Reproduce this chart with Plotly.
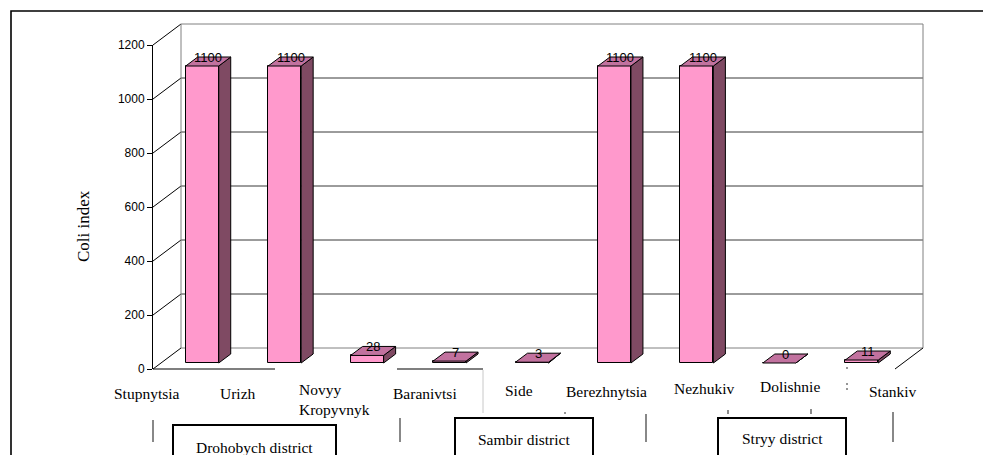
import plotly.graph_objects as go

# ---------------- data ----------------
villages = ["Stupnytsia", "Urizh", "Novyy<br>Kropyvnyk", "Baranivtsi", "Side",
            "Berezhnytsia", "Nezhukiv", "Dolishnie", "Stankiv"]
coli_index = [1100, 1100, 28, 7, 3, 1100, 1100, 0, 11]
districts = ["Drohobych district", "Sambir district", "Stryy district"]
y_ticks = [0, 200, 400, 600, 800, 1000, 1200]

# ---------------- geometry (pixels) ----------------
W, H = 983, 455
AX_L, AX_R = 153, 895      # front plane, left / right edge
AX_B, AX_T = 369, 45       # front plane, value 0 / value 1200
YTOP = y_ticks[-1]
n = len(villages)
PXX = (AX_R - AX_L) / n    # pixels per category unit
PXY = (AX_B - AX_T) / YTOP # pixels per value unit

XMIN = -0.5 - AX_L / PXX
XMAX = XMIN + W / PXX
YMIN = -(H - AX_B) / PXY
YMAX = YMIN + H / PXY


def ux(p):
    return p / PXX


def uy(p):
    return p / PXY


def px(x):
    return x / W


def py(y):
    return 1 - y / H


WALL_DX, WALL_DY = ux(28), uy(21)   # depth of the chart box
BAR_OX, BAR_OY = ux(8), uy(6)       # bars sit slightly behind the front plane
BAR_DX, BAR_DY = ux(12), uy(9)      # depth of each bar
BAR_W = ux(33)

FRONT = "#FF99CC"
TOP = "#C2729F"
SIDE = "#7F4A63"
SERIF = "Liberation Serif, Times New Roman, serif"
SANS = "Liberation Sans, Arial, sans-serif"

fig = go.Figure()

# front faces of the bars
centers = [i + BAR_OX for i in range(n)]
fig.add_trace(go.Bar(
    x=centers, y=coli_index, base=BAR_OY, width=BAR_W,
    marker=dict(color=FRONT, line=dict(color="black", width=1)),
    hoverinfo="skip", showlegend=False,
))

# side and top faces
side_x, side_y, top_x, top_y = [], [], [], []
for c, v in zip(centers, coli_index):
    x0, x1 = c - BAR_W / 2, c + BAR_W / 2
    yt = BAR_OY + v
    side_x += [x1, x1 + BAR_DX, x1 + BAR_DX, x1, x1, None]
    side_y += [BAR_OY, BAR_OY + BAR_DY, yt + BAR_DY, yt, BAR_OY, None]
    top_x += [x0, x1, x1 + BAR_DX, x0 + BAR_DX, x0, None]
    top_y += [yt, yt, yt + BAR_DY, yt + BAR_DY, yt, None]

fig.add_trace(go.Scatter(x=side_x, y=side_y, mode="lines", fill="toself",
                         fillcolor=SIDE, line=dict(color="black", width=1),
                         hoverinfo="skip", showlegend=False))
fig.add_trace(go.Scatter(x=top_x, y=top_y, mode="lines", fill="toself",
                         fillcolor=TOP, line=dict(color="black", width=1),
                         hoverinfo="skip", showlegend=False))

# value labels above each bar
annotations = []
for c, v in zip(centers, coli_index):
    annotations.append(dict(
        x=c + BAR_DX / 2, y=BAR_OY + v + BAR_DY / 2, xref="x", yref="y",
        text=str(v), showarrow=False, yshift=4.5,
        xanchor="center", yanchor="middle",
        font=dict(family=SANS, size=13, color="black"),
    ))

# back wall, gridlines and side wall edges
shapes = []
bx0, bx1 = -0.5 + WALL_DX, n - 0.5 + WALL_DX


def seg(x0, y0, x1, y1, color, width=1, ref="x"):
    yref = "y" if ref == "x" else "paper"
    shapes.append(dict(type="line", xref=ref, yref=yref, x0=x0, y0=y0,
                       x1=x1, y1=y1, layer="below",
                       line=dict(color=color, width=width)))


for t in y_ticks:
    col = "#808080" if t in (0, YTOP) else "#383838"
    seg(bx0, t + WALL_DY, bx1, t + WALL_DY, col)
    seg(-0.5, t, bx0, t + WALL_DY, "black")
seg(bx0, WALL_DY, bx0, YTOP + WALL_DY, "#808080")
seg(bx1, WALL_DY, bx1, YTOP + WALL_DY, "#808080")
seg(n - 0.5, 0, bx1, WALL_DY, "black")

# visible pieces of the floor front edge
for a, b in [(153, 275), (397, 483)]:
    seg(px(a), py(369), px(b), py(369), "black", 1.2, ref="paper")
seg(px(483), py(370), px(483), py(413), "#c8c8c8", 1, ref="paper")

# group separators under the axis
for xs, y0 in [(153, 420), (400, 418), (646, 414), (893, 412)]:
    seg(px(xs), py(y0), px(xs), py(442), "#606060", 1.5, ref="paper")
seg(px(728), py(410), px(728), py(414), "#404040", 1.2, ref="paper")
seg(px(811), py(409), px(811), py(414), "#404040", 1.2, ref="paper")

# small leftover tick marks
for mx, my0, my1 in [(565, 412, 414), (847, 367, 369), (847, 383, 385), (847, 388, 390)]:
    seg(px(mx), py(my0), px(mx), py(my1), "#505050", 1.2, ref="paper")

# outer frame
shapes.append(dict(type="path", xref="paper", yref="paper",
                   path=f"M {px(11)},{py(460)} L {px(11)},{py(11)} L {px(990)},{py(11)}",
                   line=dict(color="black", width=1.6)))

# district boxes
box_pos = [(173, 336, 425, 254, 447), (455, 593, 418, 524, 439), (718, 846, 418, 782, 438)]
for name, (x0, x1, y0, tx, ty) in zip(districts, box_pos):
    shapes.append(dict(type="rect", xref="paper", yref="paper",
                       x0=px(x0), x1=px(x1), y0=py(y0), y1=py(470),
                       line=dict(color="black", width=2), fillcolor="white"))
    annotations.append(dict(x=px(tx), y=py(ty), xref="paper", yref="paper",
                            text=name, showarrow=False,
                            xanchor="center", yanchor="middle",
                            font=dict(family=SERIF, size=15.5, color="black")))

# village labels
label_pos = [(147, 393, "center"), (238, 393, "center"), (297, 399, "left"),
             (425, 393, "center"), (519, 390, "center"), (606, 391, "center"),
             (704, 388, "center"), (790, 386, "center"), (893, 391, "center")]
for name, (lx, ly, al) in zip(villages, label_pos):
    annotations.append(dict(x=px(lx), y=py(ly), xref="paper", yref="paper",
                            text=name, showarrow=False, xanchor=al,
                            yanchor="middle", align="left",
                            font=dict(family=SERIF, size=15.5, color="black")))

# y axis title
annotations.append(dict(x=px(83), y=py(226), xref="paper", yref="paper",
                        text="Coli index", textangle=-90, showarrow=False,
                        xanchor="center", yanchor="middle",
                        font=dict(family=SERIF, size=17, color="black")))

# placeholder trace so the value axis subplot is drawn
fig.add_trace(go.Scatter(x=[None], y=[None], xaxis="x2", yaxis="y2",
                         showlegend=False, hoverinfo="skip"))

fig.update_layout(
    width=W, height=H,
    margin=dict(l=0, r=0, t=0, b=0, autoexpand=False),
    paper_bgcolor="white", plot_bgcolor="rgba(0,0,0,0)",
    showlegend=False,
    xaxis=dict(domain=[0, 1], range=[XMIN, XMAX], visible=False,
               fixedrange=True, automargin=False),
    yaxis=dict(domain=[0, 1], range=[YMIN, YMAX], visible=False,
               fixedrange=True, automargin=False),
    xaxis2=dict(domain=[AX_L / W, AX_R / W], range=[-0.5, n - 0.5],
                visible=False, anchor="y2", automargin=False),
    yaxis2=dict(domain=[1 - AX_B / H, 1 - AX_T / H], range=[0, YTOP],
                anchor="x2", tickvals=y_ticks, showline=True, linecolor="black",
                linewidth=1, ticks="outside", ticklen=5, tickcolor="black",
                showgrid=False, zeroline=False, automargin=False,
                tickfont=dict(family=SANS, size=12, color="black")),
    shapes=shapes,
    annotations=annotations,
    bargap=0,
)

fig.write_html("out.html")
